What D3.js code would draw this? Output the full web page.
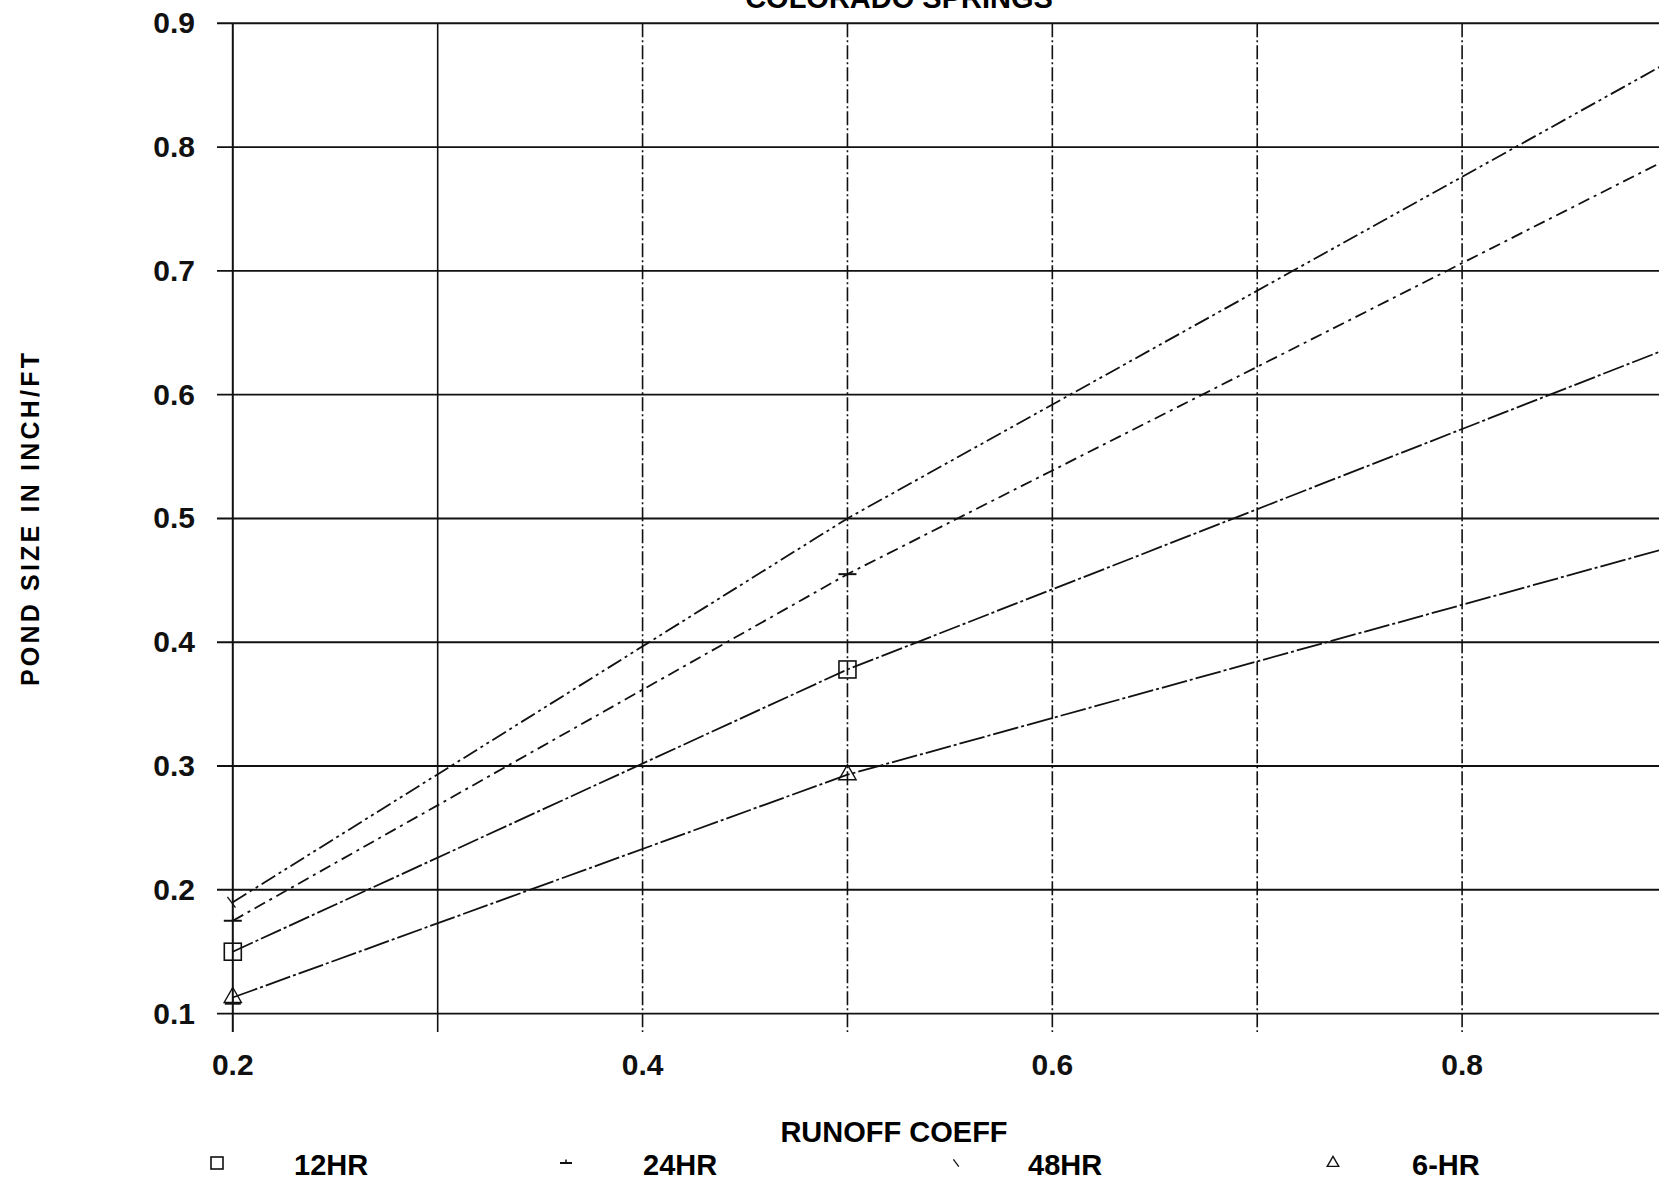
<!DOCTYPE html>
<html lang="en">
<head>
<meta charset="UTF-8">
<script src="https://d3js.org/d3.v7.min.js"></script>
<style>
  body { margin: 0; background: #fff; }
  svg { display: block; font-family: "Liberation Sans", Arial, sans-serif; }
  .tick-label { font-size: 30px; font-weight: bold; fill: #111; }
  .narrow { font-family: "Liberation Sans Narrow", "Liberation Sans", Arial, sans-serif; }
</style>
<title>Pond size vs runoff coeff</title>
</head>
<body>
<div id="chart"></div>
<script>
// data
const runoff = [0.2, 0.5, 0.9];
const hr48 = [0.19, 0.50, 0.868];
const hr24 = [0.175, 0.455, 0.79];
const hr12 = [0.15, 0.378, 0.637];
const hr6 = [0.113, 0.293, 0.476];
const seriesNames = ["12HR", "24HR", "48HR", "6-HR"];
const yTicks = [0.1, 0.2, 0.3, 0.4, 0.5, 0.6, 0.7, 0.8, 0.9];
const xGrid = [0.2, 0.3, 0.4, 0.5, 0.6, 0.7, 0.8, 0.9];
const xLabels = [0.2, 0.4, 0.6, 0.8];

const w = 1659, h = 1185;

const x = d3.scaleLinear().domain([0.2, 0.9]).range([232.8, 1667]);
const y = d3.scaleLinear().domain([0.1, 0.9]).range([1013.6, 23.3]);

const svg = d3.select("#chart").append("svg")
  .attr("width", w).attr("height", h);

// title, only its lower part shows at the top edge of the scan
svg.append("text")
  .attr("x", 899).attr("y", 8)
  .attr("text-anchor", "middle")
  .attr("class", "narrow")
  .style("font-size", "29px")
  .style("font-weight", "bold")
  .text("COLORADO SPRINGS");

// horizontal grid
svg.append("g").selectAll("line")
  .data(yTicks).enter().append("line")
  .attr("x1", 217).attr("x2", w)
  .attr("y1", d => y(d)).attr("y2", d => y(d))
  .attr("stroke", "#111").attr("stroke-width", 1.9);

// vertical grid
svg.append("g").selectAll("line")
  .data(xGrid).enter().append("line")
  .attr("x1", d => x(d)).attr("x2", d => x(d))
  .attr("y1", y(0.9)).attr("y2", 1032)
  .attr("stroke", "#111")
  .attr("stroke-width", d => d == 0.2 ? 2 : 1.6)
  .attr("stroke-dasharray", d => d == 0.2 || d == 0.3 ? null : "14,3,2,3");

// y tick labels
svg.append("g").selectAll("text")
  .data(yTicks).enter().append("text")
  .attr("class", "tick-label")
  .attr("x", 195)
  .attr("y", d => y(d) + 10)
  .attr("text-anchor", "end")
  .text(d => d3.format(".1f")(d));

// x tick labels
svg.append("g").selectAll("text")
  .data(xLabels).enter().append("text")
  .attr("class", "tick-label")
  .attr("x", d => x(d))
  .attr("y", 1075)
  .attr("text-anchor", "middle")
  .text(d => d3.format(".1f")(d));

// axis titles
svg.append("text")
  .attr("x", 894).attr("y", 1142)
  .attr("text-anchor", "middle")
  .attr("class", "narrow")
  .style("font-size", "29px")
  .style("font-weight", "bold")
  .text("RUNOFF COEFF");

svg.append("text")
  .attr("transform", "translate(39, 518) rotate(-90)")
  .attr("text-anchor", "middle")
  .style("font-size", "25px")
  .style("font-weight", "bold")
  .style("letter-spacing", "3.2px")
  .text("POND SIZE IN INCH/FT");

// series lines
const series = [
  { name: "48HR", vals: hr48, dash: "16,4,3,4,3,4" },
  { name: "24HR", vals: hr24, dash: "12,5,3,5" },
  { name: "12HR", vals: hr12, dash: "22,3,3,3" },
  { name: "6-HR", vals: hr6, dash: "26,3,3,3" }
];

const line = d3.line().x(d => x(d[0])).y(d => y(d[1]));

svg.append("g").selectAll("path")
  .data(series).enter().append("path")
  .attr("d", s => line(runoff.map((r, i) => [r, s.vals[i]])))
  .attr("fill", "none")
  .attr("stroke", "#111")
  .attr("stroke-width", 1.8)
  .attr("stroke-dasharray", s => s.dash);

// markers
function marker(g, type, cx, cy, size) {
  if (type == "12HR") {
    g.append("rect")
      .attr("x", cx - size).attr("y", cy - size)
      .attr("width", size * 2).attr("height", size * 2)
      .attr("fill", "none").attr("stroke", "#111").attr("stroke-width", 1.6);
  } else if (type == "24HR") {
    g.append("line")
      .attr("x1", cx - size).attr("x2", cx + size)
      .attr("y1", cy).attr("y2", cy)
      .attr("stroke", "#111").attr("stroke-width", 2);
    g.append("line")
      .attr("x1", cx).attr("x2", cx)
      .attr("y1", cy - size * 0.6).attr("y2", cy)
      .attr("stroke", "#111").attr("stroke-width", 1.5);
  } else if (type == "48HR") {
    g.append("line")
      .attr("x1", cx - size * 0.6).attr("x2", cx + size * 0.3)
      .attr("y1", cy - size * 0.6).attr("y2", cy + size * 0.6)
      .attr("stroke", "#111").attr("stroke-width", 1.3);
  } else {
    g.append("path")
      .attr("d", d3.symbol().type(d3.symbolTriangle).size(size * size * 1.6)())
      .attr("transform", "translate(" + cx + "," + cy + ")")
      .attr("fill", "none").attr("stroke", "#111").attr("stroke-width", 1.4);
  }
}

const mg = svg.append("g");
series.forEach(s => {
  // markers sit on the first two points only (0.2 and 0.5); 48HR shows only at 0.2
  const idx = s.name == "48HR" ? [0] : [0, 1];
  idx.forEach(i => {
    marker(mg, s.name, x(runoff[i]), y(s.vals[i]), s.name == "12HR" ? 8.5 : 9);
  });
});
// stray 24HR tick seen near 0.1 on the left axis
marker(mg, "24HR", x(0.2), y(0.108), 8);

// legend
const legendX = [217, 566, 957, 1333];
const legendTextX = [294, 643, 1028, 1412];
const lg = svg.append("g");
seriesNames.forEach((n, i) => {
  marker(lg, n, legendX[i], 1163, 6);
  lg.append("text")
    .attr("x", legendTextX[i]).attr("y", 1175)
    .attr("class", "narrow")
    .style("font-size", "29px")
    .style("font-weight", "bold")
    .text(n);
});
</script>
</body>
</html>
